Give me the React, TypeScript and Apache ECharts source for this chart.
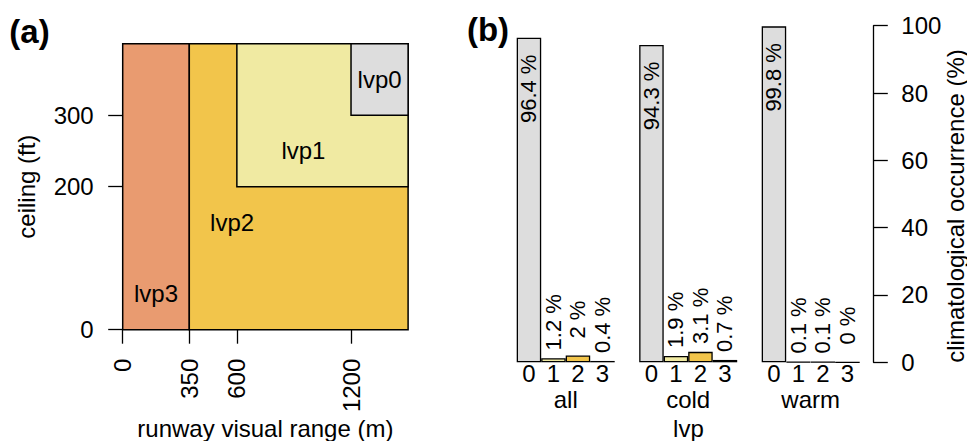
import React, { useEffect, useRef } from 'react';
import * as echarts from 'echarts';

// ---------- panel (a): lvp class definitions ----------
const regionLabels = ['lvp3', 'lvp2', 'lvp1', 'lvp0'];
const regionClass = [3, 2, 1, 0];
const regionRvrFrom = [0, 350, 600, 1200];
const regionRvrTo = [350, 1500, 1500, 1500];
const regionCeilFrom = [0, 0, 200, 300];
const regionCeilTo = [400, 400, 400, 400];
const labelRvr = [175, 575, 950, 1350];
const labelCeil = [50, 150, 250, 350];
const rvrTicks = [0, 350, 600, 1200];
const ceilTicks = [0, 200, 300];

// ---------- panel (b): climatological occurrence ----------
const groups = ['all', 'cold', 'warm'];
const lvpClasses = ['0', '1', '2', '3'];
const allValues = [96.4, 1.2, 2, 0.4];
const coldValues = [94.3, 1.9, 3.1, 0.7];
const warmValues = [99.8, 0.1, 0.1, 0];
const groupValues = [allValues, coldValues, warmValues];

const lvpColors = ['#DDDDDD', '#F0EAA2', '#F2C54B', '#E99B70'];
const FONT = 'Liberation Sans';

export default function App() {
  const ref = useRef<HTMLDivElement>(null);
  useEffect(() => {
    if (!ref.current) return;
    const chart = echarts.init(ref.current, undefined, { renderer: 'svg' });

    const barLeft0 = 516.7;
    const unit = 24.5;
    const barTop = 25.7;
    const barHeight = 336.6;

    const grids: any[] = [
      { left: 122.7, top: 43.7, width: 285.4, height: 286, containLabel: false },
    ];
    const xAxes: any[] = [
      {
        gridIndex: 0,
        type: 'value',
        min: 0,
        max: 1500,
        axisLine: { show: false },
        splitLine: { show: false },
        axisTick: { show: true, length: 14, customValues: rvrTicks, lineStyle: { color: '#000', width: 1.3 } },
        axisLabel: {
          customValues: rvrTicks,
          formatter: (v: number) => String(v),
          rotate: 90,
          margin: 29,
          fontSize: 24,
          fontFamily: FONT,
          color: '#000',
        },
      },
    ];
    const yAxes: any[] = [
      {
        gridIndex: 0,
        type: 'value',
        min: 0,
        max: 400,
        axisLine: { show: false },
        splitLine: { show: false },
        axisTick: { show: true, length: 14.5, customValues: ceilTicks, lineStyle: { color: '#000', width: 1.3 } },
        axisLabel: { customValues: ceilTicks, formatter: (v: number) => String(v), margin: 29, fontSize: 24, fontFamily: FONT, color: '#000' },
      },
    ];
    const series: any[] = [
      {
        type: 'custom',
        xAxisIndex: 0,
        yAxisIndex: 0,
        data: regionLabels.map((_, i) => [regionRvrFrom[i], regionRvrTo[i], regionCeilFrom[i], regionCeilTo[i]]),
        renderItem: (params: any, api: any) => {
          const p0 = api.coord([api.value(0), api.value(3)]);
          const p1 = api.coord([api.value(1), api.value(2)]);
          return {
            type: 'rect',
            shape: { x: p0[0], y: p0[1], width: p1[0] - p0[0], height: p1[1] - p0[1] },
            style: { fill: lvpColors[regionClass[params.dataIndex]], stroke: '#000', lineWidth: 1.5 },
          };
        },
        silent: true,
      },
      {
        type: 'custom',
        xAxisIndex: 0,
        yAxisIndex: 0,
        data: regionLabels.map((_, i) => [labelRvr[i], labelCeil[i]]),
        renderItem: (params: any, api: any) => {
          const p = api.coord([api.value(0), api.value(1)]);
          return {
            type: 'text',
            x: p[0],
            y: p[1],
            style: {
              text: regionLabels[params.dataIndex],
              fill: '#000',
              fontSize: 24,
              fontFamily: FONT,
              align: 'center',
              verticalAlign: 'middle',
            },
          };
        },
        silent: true,
      },
    ];

    groups.forEach((g, i) => {
      const gi = i + 1;
      grids.push({ left: barLeft0 + i * 5 * unit, top: barTop, width: 4 * unit, height: barHeight, containLabel: false });
      xAxes.push({
        gridIndex: gi,
        type: 'category',
        data: lvpClasses,
        axisLine: { show: false },
        axisTick: { show: false },
        axisLabel: { margin: -1, fontSize: 24, fontFamily: FONT, color: '#000', interval: 0 },
        name: g,
        nameLocation: 'middle',
        nameGap: 25,
        nameMoveOverlap: false,
        nameTextStyle: { fontSize: 24, fontFamily: FONT, color: '#000', verticalAlign: 'top' },
      });
      const isLast = i === groups.length - 1;
      yAxes.push({
        gridIndex: gi,
        type: 'value',
        min: 0,
        max: 100,
        interval: 20,
        show: isLast,
        position: 'right',
        offset: 873.3 - (barLeft0 + i * 5 * unit + 4 * unit),
        axisLine: { show: true, lineStyle: { color: '#000', width: 1.3 } },
        axisTick: { show: true, length: 14.5, lineStyle: { color: '#000', width: 1.3 } },
        axisLabel: { margin: 28, fontSize: 24, fontFamily: FONT, color: '#000' },
        splitLine: { show: false },
      });
      series.push({
        type: 'bar',
        xAxisIndex: gi,
        yAxisIndex: gi,
        barWidth: '100%',
        barCategoryGap: 0,
        itemStyle: { borderColor: '#000', borderWidth: 1.3 },
        label: {
          show: true,
          rotate: 90,
          fontSize: 22,
          fontFamily: FONT,
          color: '#000',
          align: 'center',
          verticalAlign: 'middle',
          formatter: (p: any) => `${p.value} %`,
        },
        data: groupValues[i].map((v, k) => ({
          value: v,
          itemStyle: { color: lvpColors[k] },
          label: { position: v > 50 ? ['50%', 51] : ['50%', -36] },
        })),
        silent: true,
      });
    });

    const option: any = {
      animation: false,
      backgroundColor: '#fff',
      grid: grids,
      xAxis: xAxes,
      yAxis: yAxes,
      series,
      graphic: [
        { type: 'text', x: 29.5, y: 31, style: { text: '(a)', fill: '#000', fontSize: 33, fontWeight: 'bold', fontFamily: FONT, align: 'center', verticalAlign: 'middle' } },
        { type: 'text', x: 488, y: 29.5, style: { text: '(b)', fill: '#000', fontSize: 33, fontWeight: 'bold', fontFamily: FONT, align: 'center', verticalAlign: 'middle' } },
        { type: 'text', x: 26, y: 186.7, rotation: Math.PI / 2, style: { text: 'ceiling (ft)', fill: '#000', fontSize: 24, fontFamily: FONT, align: 'center', verticalAlign: 'middle' } },
        { type: 'text', x: 265.4, y: 428.5, style: { text: 'runway visual range (m)', fill: '#000', fontSize: 24, fontFamily: FONT, align: 'center', verticalAlign: 'middle' } },
        { type: 'text', x: 955, y: 206, rotation: Math.PI / 2, style: { text: 'climatological occurrence (%)', fill: '#000', fontSize: 24, fontFamily: FONT, align: 'center', verticalAlign: 'middle' } },
        { type: 'text', x: 688.4, y: 428, style: { text: 'lvp', fill: '#000', fontSize: 24, fontFamily: FONT, align: 'center', verticalAlign: 'middle' } },
      ],
    };
    chart.setOption(option);
    return () => chart.dispose();
  }, []);
  return <div ref={ref} style={{ position: 'fixed', left: 0, top: 0, width: 967, height: 441, background: '#fff' }} />;
}
